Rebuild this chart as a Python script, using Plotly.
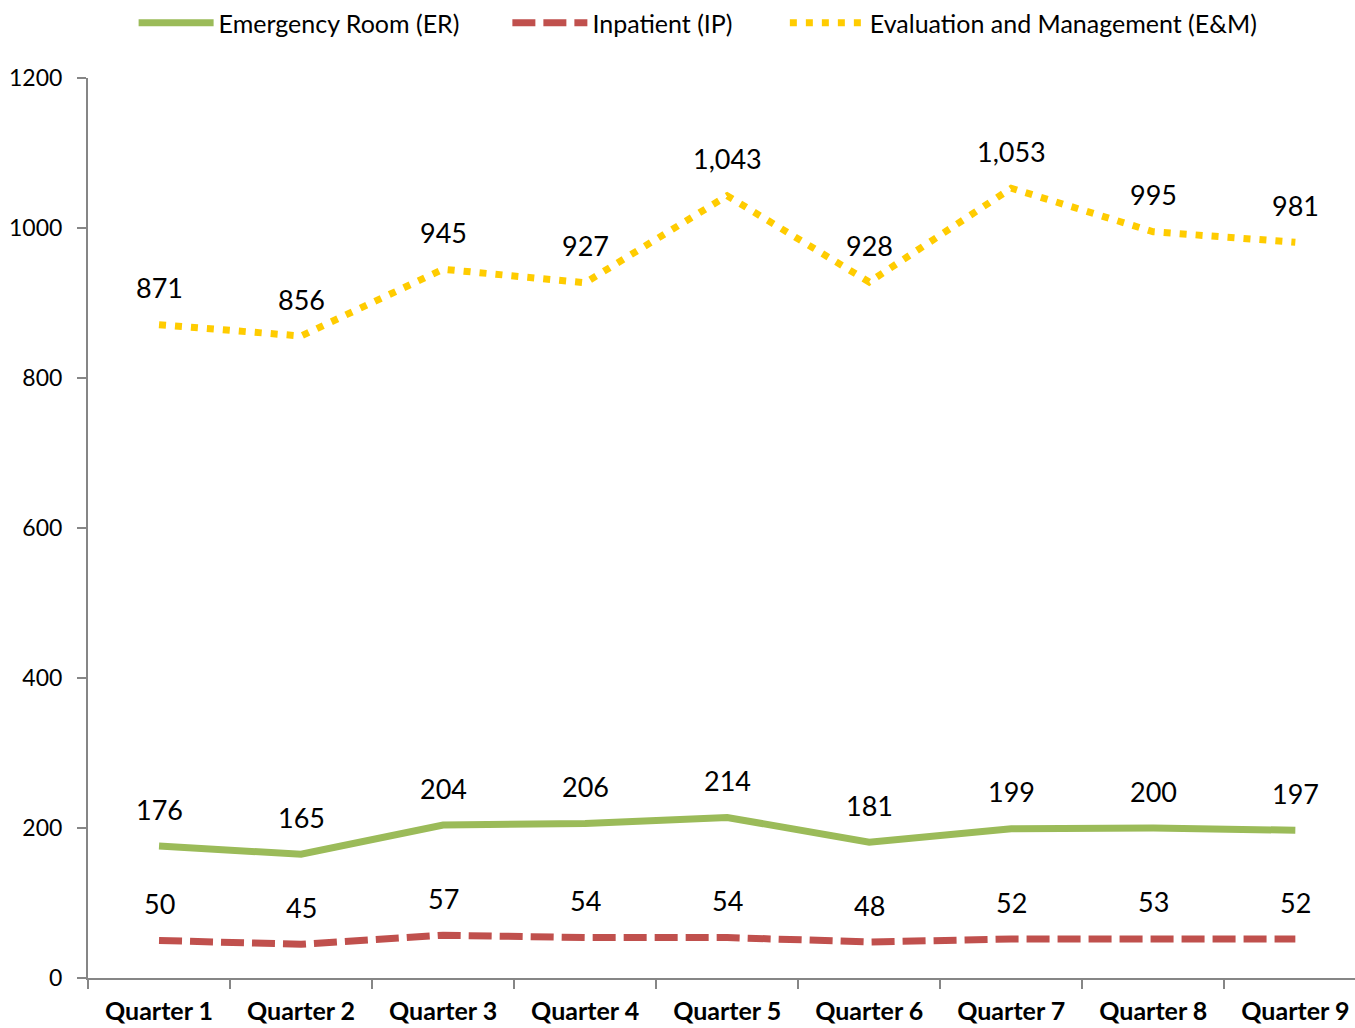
import plotly.graph_objects as go

quarters = ["Quarter 1", "Quarter 2", "Quarter 3", "Quarter 4", "Quarter 5",
            "Quarter 6", "Quarter 7", "Quarter 8", "Quarter 9"]
er_values = [176, 165, 204, 206, 214, 181, 199, 200, 197]
ip_values = [50, 45, 57, 54, 54, 48, 52, 53, 52]
em_values = [871, 856, 945, 927, 1043, 928, 1053, 995, 981]
y_ticks = [0, 200, 400, 600, 800, 1000, 1200]

FONT = "Lato"
fig = go.Figure()

fig.add_trace(go.Scatter(x=quarters, y=er_values, mode="lines",
                         name="Emergency Room (ER)", legend="legend",
                         line=dict(color="#9BBB59", width=7)))
fig.add_trace(go.Scatter(x=quarters, y=ip_values, mode="lines",
                         name="Inpatient (IP)", legend="legend2",
                         line=dict(color="#C0504D", width=7, dash="23px,8px")))
fig.add_trace(go.Scatter(x=quarters, y=em_values, mode="lines",
                         name="Evaluation and Management (E&M)", legend="legend3",
                         line=dict(color="#FFCC00", width=7, dash="7px,9px")))

for series in (er_values, ip_values, em_values):
    for q, v in zip(quarters, series):
        fig.add_annotation(x=q, y=v, text=f"{v:,}", showarrow=False,
                           yshift=37, font=dict(family=FONT, size=27, color="#000000"))

leg_common = dict(orientation="h", xanchor="left", y=1.061, yanchor="middle",
                  font=dict(family=FONT, size=25, color="#000000"),
                  bgcolor="rgba(0,0,0,0)", itemwidth=75)

fig.update_layout(
    width=1355, height=1028,
    margin=dict(l=88, r=0, t=77, b=50),
    paper_bgcolor="white", plot_bgcolor="white",
    font=dict(family=FONT, color="#000000"),
    showlegend=True,
    legend=dict(x=0.036, **leg_common),
    legend2=dict(x=0.331, **leg_common),
    legend3=dict(x=0.550, **leg_common),
)
fig.update_xaxes(
    type="category", range=[-0.5, 8.42], automargin=False,
    showline=True, linecolor="#868686", linewidth=2,
    ticks="outside", tickson="boundaries", ticklen=9, tickcolor="#868686", tickwidth=2,
    showgrid=False, zeroline=False, ticklabelstandoff=10,
    tickfont=dict(family=FONT, size=25, color="#000000", weight="bold"),
)
fig.update_yaxes(
    range=[0, 1200], tickvals=y_ticks, ticktext=[str(t) for t in y_ticks],
    automargin=False,
    showline=True, linecolor="#868686", linewidth=2,
    ticks="outside", ticklen=9, tickcolor="#868686", tickwidth=2,
    showgrid=False, zeroline=False, ticklabelstandoff=10,
    tickfont=dict(family=FONT, size=23, color="#000000"),
)

fig.write_html("out.html", config={"displayModeBar": False},
               post_script="document.body.style.margin='0';document.body.style.overflow='hidden';")
